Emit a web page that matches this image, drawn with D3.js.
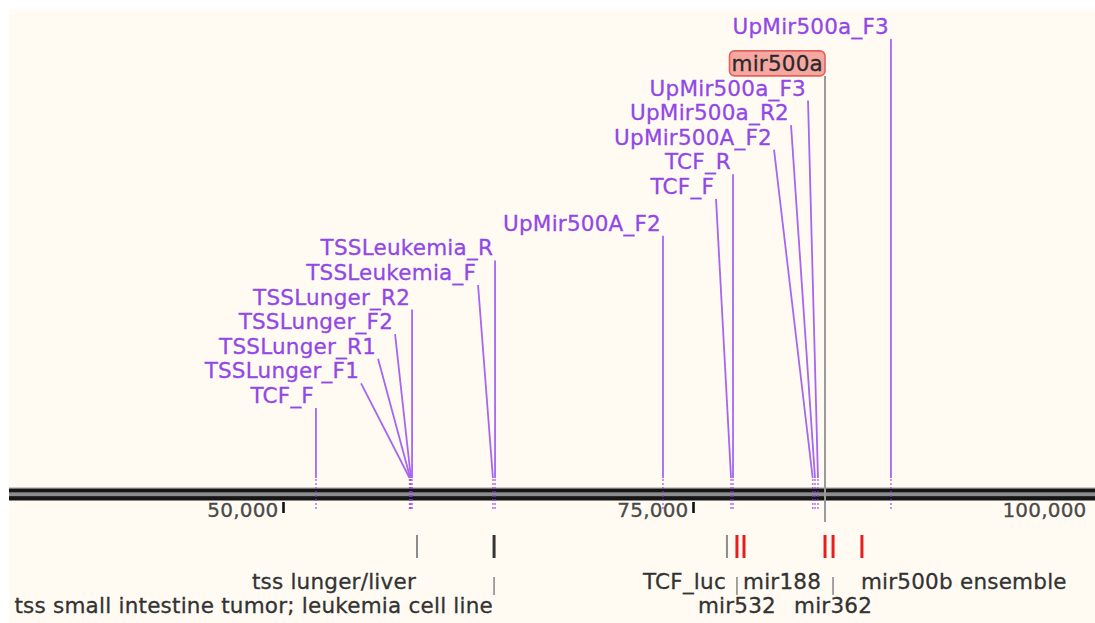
<!DOCTYPE html>
<html>
<head>
<meta charset="utf-8">
<script src="https://cdn.jsdelivr.net/npm/d3@7"></script>
<style>
  html, body { margin: 0; padding: 0; background: #ffffff; }
  svg { display: block; }
  text { font-family: "DejaVu Sans", Verdana, sans-serif; }
  .lbl { letter-spacing: 0.22px; stroke-width: 0.3px; }
</style>
</head>
<body>
<svg id="map" width="1095" height="623"></svg>
<script>
// Sequence map of the mir500 region: primers stacked above the backbone,
// annotated features (TSS, reporter, miRNAs) below it.

const axisTicks = [50000, 75000, 100000];

const primerNames = ["TCF_F", "TSSLunger_F1", "TSSLunger_R1", "TSSLunger_F2", "TSSLunger_R2",
  "TSSLeukemia_F", "TSSLeukemia_R", "UpMir500A_F2", "TCF_F", "TCF_R",
  "UpMir500A_F2", "UpMir500a_R2", "UpMir500a_F3", "UpMir500a_F3"];
const primerSites = [52010, 57720, 57760, 57800, 57870,
  62800, 62930, 73170, 77320, 77440,
  82300, 82440, 82620, 87070];
// stacking level of each primer label (0 = closest to the backbone)
const primerTiers = [0, 1, 2, 3, 4, 5, 6, 7, 8.5, 9.5, 10.5, 11.5, 12.5, 15];

const featureNames = ["tss lunger/liver", "tss small intestine tumor; leukemia cell line", "TCF_luc",
  "mir532", "mir188", "mir500a", "mir362", "mir500b ensemble"];
const featureSites = [58170, 62870, 77070, 77680, 78110, 83050, 83540, 85300];
const featureKinds = ["TSS", "regulatory", "misc_feature", "miRNA", "miRNA", "miRNA", "miRNA", "miRNA"];

// highlighted feature, labelled in the primer stack
const highlightName = "mir500a";
const highlightTier = 13.5;

// label rows / alignment for the features drawn below the backbone
const featureLabelRows = [1, 2, 1, 2, 1, 0, 2, 1];
const featureLabelAlign = ["end", "end", "end", "middle", "start", null, "middle", "start"];

// ---------------------------------------------------------------------------
const W = 1095, H = 623;
const svg = d3.select("#map");

const x = d3.scaleLinear().domain([50000, 75000]).range([283, 693]);
const tierY = d3.scaleLinear().domain([0, 1]).range([403, 378.4]);

const kindColor = d3.scaleOrdinal()
  .domain(["TSS", "regulatory", "misc_feature", "miRNA"])
  .range(["#8c8c8c", "#353535", "#8c8c8c", "#e51e1e"]);
const kindWidth = d3.scaleOrdinal()
  .domain(["TSS", "regulatory", "misc_feature", "miRNA"])
  .range([2, 3, 2, 3]);

const purpleText = "#9148e6";
const purpleLine = "#a566f2";
const labelFont = 21.5;

// panel background
svg.append("rect")
  .attr("x", 9).attr("y", 10)
  .attr("width", W - 9).attr("height", H - 10)
  .attr("fill", "#fffbf3");

// measure label widths
const probe = svg.append("text").attr("class", "lbl").attr("font-size", labelFont).attr("visibility", "hidden");
function textWidth(s) { probe.text(s); return probe.node().getComputedTextLength(); }

// ---------------------------------------------------------------------------
// backbone (double strand)
const backbone = svg.append("g");
backbone.append("rect").attr("x", 9).attr("y", 487.3).attr("width", W - 9).attr("height", 1.2).attr("fill", "#b8b8b8");
backbone.append("rect").attr("x", 9).attr("y", 488.5).attr("width", W - 9).attr("height", 4.2).attr("fill", "#161616");
backbone.append("rect").attr("x", 9).attr("y", 492.7).attr("width", W - 9).attr("height", 3.4).attr("fill", "#8d8d8d");
backbone.append("rect").attr("x", 9).attr("y", 496.1).attr("width", W - 9).attr("height", 4.4).attr("fill", "#161616");

// ruler ticks
const axis = d3.axisBottom(x).tickValues(axisTicks).tickFormat(d3.format(",")).tickSize(11).tickSizeOuter(0);
const axisG = svg.append("g").attr("transform", "translate(0,502)").call(axis);
axisG.select(".domain").remove();
axisG.selectAll(".tick line").attr("stroke", "#111").attr("stroke-width", 2.6);
axisG.selectAll(".tick text")
  .attr("font-size", 20)
  .attr("fill", "#4a4a4a")
  .attr("stroke", "#4a4a4a")
  .attr("stroke-width", 0.3)
  .attr("text-anchor", "end")
  .attr("dy", null)
  .attr("y", 15)
  .attr("x", d => Math.min(x(d) - 5, W - 9) - x(d))
  .style("font-family", "\"DejaVu Sans\", Verdana, sans-serif")
  .style("letter-spacing", "0.2px");

// ---------------------------------------------------------------------------
// primer label stack: labels are placed top-down; a label is pushed left
// whenever a leader line from a higher label would run through it.
const hiIndex = featureNames.indexOf(highlightName);
const labels = primerNames.map((n, i) => ({ name: n, site: primerSites[i], tier: primerTiers[i], box: false }));
labels.push({ name: highlightName, site: featureSites[hiIndex], tier: highlightTier, box: true });
labels.sort((a, b) => b.tier - a.tier);

const boxPad = 2, gap = 19;
const placed = [];
labels.forEach(L => {
  const a = x(L.site);
  L.anchor = a;
  L.w = textWidth(L.name) + (L.box ? boxPad * 2 : 0);
  let end = L.box ? a : a - 2;
  let moved = true;
  while (moved) {
    moved = false;
    placed.forEach(P => {
      if (P.lineX > end - L.w && P.lineX - gap < end) { end = P.lineX - gap; moved = true; }
    });
  }
  L.end = end;
  L.lineX = L.box ? a : (end >= a - 2 ? a : end + 2);
  L.baseline = tierY(L.tier);
  placed.push(L);
});

const stack = svg.append("g");
const markTop = 478;

// leaders
placed.filter(L => !L.box).forEach(L => {
  stack.append("line")
    .attr("x1", L.lineX).attr("y1", L.baseline + 5)
    .attr("x2", L.anchor).attr("y2", markTop)
    .attr("stroke", purpleLine).attr("stroke-width", 1.8);
  // primer site on the backbone
  stack.append("line")
    .attr("x1", L.anchor).attr("y1", markTop + 1)
    .attr("x2", L.anchor).attr("y2", 509)
    .attr("stroke", "#8a3fe0").attr("stroke-width", 1.6)
    .attr("stroke-dasharray", "2,2").attr("opacity", 0.65);
});

// highlighted feature connector
placed.filter(L => L.box).forEach(L => {
  stack.append("line")
    .attr("x1", L.anchor).attr("y1", L.baseline + 5)
    .attr("x2", L.anchor).attr("y2", 522)
    .attr("stroke", "#9a9a9a").attr("stroke-width", 2);
  stack.append("rect")
    .attr("x", L.end - L.w).attr("y", L.baseline - 20)
    .attr("width", L.w).attr("height", 25)
    .attr("rx", 5).attr("ry", 5)
    .attr("fill", "#f6a7a2").attr("stroke", "#e3615c").attr("stroke-width", 1.6);
  stack.append("text")
    .attr("class", "lbl")
    .attr("x", L.end - boxPad).attr("y", L.baseline)
    .attr("text-anchor", "end")
    .attr("font-size", labelFont)
    .attr("fill", "#2a2a2a")
    .attr("stroke", "#2a2a2a")
    .text(L.name);
});

// primer names
stack.selectAll("text.primer")
  .data(placed.filter(L => !L.box))
  .join("text")
  .attr("class", "primer lbl")
  .attr("x", d => d.end)
  .attr("y", d => d.baseline)
  .attr("text-anchor", "end")
  .attr("font-size", labelFont)
  .attr("fill", purpleText)
  .attr("stroke", purpleText)
  .text(d => d.name);

// ---------------------------------------------------------------------------
// features below the backbone
const features = featureNames.map((n, i) => ({
  name: n, site: featureSites[i], kind: featureKinds[i],
  row: featureLabelRows[i], align: featureLabelAlign[i]
}));
const rowBaseline = d3.scaleLinear().domain([1, 2]).range([589, 613]);

const feat = svg.append("g");
feat.selectAll("line.mark")
  .data(features)
  .join("line")
  .attr("class", "mark")
  .attr("x1", d => x(d.site)).attr("x2", d => x(d.site))
  .attr("y1", 535).attr("y2", 558)
  .attr("stroke", d => kindColor(d.kind))
  .attr("stroke-width", d => kindWidth(d.kind));

const labelled = features.filter(d => d.row > 0);

// connectors for labels on the second row
feat.selectAll("line.conn")
  .data(labelled.filter(d => d.row === 2))
  .join("line")
  .attr("class", "conn")
  .attr("x1", d => x(d.site)).attr("x2", d => x(d.site))
  .attr("y1", 577).attr("y2", 595)
  .attr("stroke", "#8c8c8c").attr("stroke-width", 1.6);

feat.selectAll("text.flabel")
  .data(labelled)
  .join("text")
  .attr("class", "flabel lbl")
  .attr("x", d => d.align === "middle" ? x(d.site) : x(d.site) - 1)
  .attr("y", d => rowBaseline(d.row))
  .attr("text-anchor", d => d.align)
  .attr("font-size", labelFont)
  .attr("fill", "#333333")
  .attr("stroke", "#333333")
  .text(d => d.name);

probe.remove();
</script>
</body>
</html>
